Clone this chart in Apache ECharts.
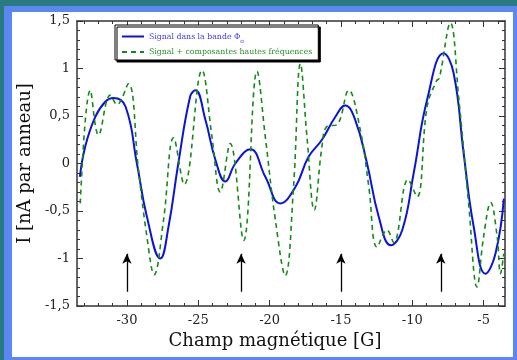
<!DOCTYPE html>
<html>
<head>
<meta charset="utf-8">
<script src="https://cdn.jsdelivr.net/npm/echarts@6/dist/echarts.min.js"></script>
<style>
  html, body { margin: 0; padding: 0; }
  body { width: 517px; height: 360px; background: #287b80; position: relative; overflow: hidden; }
  #blue { position: absolute; left: 4px; top: 6px; width: 513px; height: 354px; background: #5b87f5; }
  #white { position: absolute; left: 12px; top: 12px; width: 501px; height: 345px; background: #ffffff; }
  #chart { position: absolute; left: 0; top: 0; width: 517px; height: 360px; }
</style>
</head>
<body>
<div id="blue"></div>
<div id="white"></div>
<div id="chart"></div>
<script>
// ---- data ----
const blueName = 'Signal dans la bande Φ';
const greenName = 'Signal + composantes hautes fréquences';

const blueX = [-33.3, -32.92, -32.22, -31.52, -30.94, -30.1, -29.3, -28.6, -27.66, -27.08, -26.4, -25.56, -25.2, -24.5, -23.8, -23.1, -22.4, -21.35, -20.3, -19.25, -18.2, -17.27, -16.33, -15.4, -14.7, -14.0, -13.17, -12.35, -11.5, -10.7, -9.9, -8.96, -7.8, -7.1, -6.4, -5.7, -4.87, -4.17, -3.58];
const blueY = [-0.14, 0.18, 0.49, 0.65, 0.69, 0.60, 0.0, -0.56, -1.0, -0.66, 0.0, 0.71, 0.77, 0.46, 0.04, -0.19, 0.0, 0.15, -0.14, -0.42, -0.25, 0.07, 0.25, 0.49, 0.61, 0.46, 0.0, -0.56, -0.86, -0.70, -0.10, 0.67, 1.16, 0.95, 0.11, -0.66, -1.16, -0.95, -0.37];

const greenX = [-33.27, -32.57, -31.99, -31.17, -30.7, -29.9, -29.19, -28.6, -28.09, -27.43, -26.73, -25.98, -24.74, -24.04, -23.46, -22.76, -21.82, -20.88, -20.3, -19.6, -18.9, -18.32, -17.84, -17.38, -16.87, -16.33, -15.98, -15.27, -14.46, -13.64, -13.05, -12.47, -11.77, -11.3, -10.3, -9.66, -8.96, -8.3, -8.1, -7.33, -6.75, -6.05, -5.46, -5.0, -4.5, -4.05, -3.82, -3.59];
const greenY = [-0.42, 0.77, 0.30, 0.72, 0.62, 0.84, -0.07, -0.77, -1.17, -0.59, 0.27, -0.22, 0.98, 0.28, -0.30, 0.21, -0.81, 0.97, 0.28, -0.59, -1.18, -0.24, 1.05, 0.28, -0.49, 0.18, 0.39, 0.41, 0.77, 0.35, -0.24, -0.88, -0.70, -0.83, -0.17, -0.35, 0.60, 0.87, 0.90, 1.48, 0.70, -0.42, -1.30, -0.77, -0.41, -0.77, -1.16, -0.95];

const arrowX = [-30, -22, -15, -8];
const arrowFrom = -1.35;
const arrowTo = -0.95;

const xMajorTicks = [-30, -25, -20, -15, -10, -5];
const xMinorTicks = [-33, -32, -31, -30, -29, -28, -27, -26, -25, -24, -23, -22, -21, -20, -19, -18, -17, -16, -15, -14, -13, -12, -11, -10, -9, -8, -7, -6, -5, -4];
const xMin = -33.5, xMax = -3.5;
const yMin = -1.5, yMax = 1.5, yStep = 0.5;

const xTitle = 'Champ magnétique [G]';
const yTitle = 'I [nA par anneau]';

// ---- chart ----
const FONT = 'DejaVu Serif';
const axisColor = '#333';
const fmt = v => String(v).replace('.', ',');

function xAxisDef(pos, ticks, len, showLine, showLabel) {
  return {
    type: 'value', min: xMin, max: xMax, position: pos,
    axisLine: { show: showLine, onZero: false, lineStyle: { color: axisColor, width: 1.5 } },
    axisTick: { show: true, inside: true, length: len, customValues: ticks, lineStyle: { color: axisColor, width: 1 } },
    axisLabel: { show: showLabel, customValues: xMajorTicks, formatter: fmt, margin: 8, color: '#222', fontFamily: FONT, fontSize: 13 },
    splitLine: { show: false }
  };
}
function yAxisDef(pos, showLabel) {
  return {
    type: 'value', min: yMin, max: yMax, interval: yStep, position: pos,
    axisLine: { show: true, onZero: false, lineStyle: { color: axisColor, width: 1.5 } },
    axisTick: { show: true, inside: true, length: 6, lineStyle: { color: axisColor, width: 1 } },
    minorTick: { show: true, splitNumber: 5, length: 3, lineStyle: { color: axisColor, width: 1 } },
    axisLabel: { show: showLabel, formatter: fmt, margin: 7, color: '#222', fontFamily: FONT, fontSize: 13 },
    splitLine: { show: false }
  };
}

const xBottom = xAxisDef('bottom', xMajorTicks, 6, true, true);
xBottom.name = xTitle;
xBottom.nameLocation = 'middle';
xBottom.nameGap = 26;
xBottom.nameTextStyle = { fontFamily: FONT, fontSize: 18, color: '#111', padding: [0, 32, 0, 0] };

const yLeft = yAxisDef('left', true);
yLeft.name = yTitle;
yLeft.nameLocation = 'middle';
yLeft.nameGap = 38;
yLeft.nameTextStyle = { fontFamily: FONT, fontSize: 18, color: '#111' };

const chart = echarts.init(document.getElementById('chart'), null, { renderer: 'canvas' });
chart.setOption({
  animation: false,
  grid: { left: 77, right: 12, top: 21, bottom: 54, containLabel: false },
  legend: {
    orient: 'vertical', left: 115, top: 25,
    padding: [4, 6, 4, 6], itemGap: 4, itemWidth: 22, itemHeight: 10,
    backgroundColor: '#fff', borderColor: '#000', borderWidth: 1,
    shadowColor: '#000', shadowBlur: 0, shadowOffsetX: 2, shadowOffsetY: 2,
    itemStyle: { opacity: 0 },
    textStyle: { fontFamily: FONT, fontSize: 7.8,
      rich: { sub: { fontFamily: FONT, fontSize: 6, color: '#3a3ae8', padding: [9, 0, 0, 0], lineHeight: 10 } } },
    formatter: n => n === blueName ? n + '{sub|o}' : n,
    data: [
      { name: blueName, textStyle: { color: '#3a3ae8' } },
      { name: greenName, textStyle: { color: '#259025' } }
    ]
  },
  xAxis: [
    xBottom,
    xAxisDef('bottom', xMinorTicks, 3, false, false),
    xAxisDef('top', xMajorTicks, 6, true, false),
    xAxisDef('top', xMinorTicks, 3, false, false)
  ],
  yAxis: [yLeft, yAxisDef('right', false)],
  series: [
    {
      name: blueName, type: 'line', xAxisIndex: 0, yAxisIndex: 0,
      data: blueX.map((x, i) => [x, blueY[i]]),
      smooth: 0.45, symbol: 'none', showSymbol: false,
      lineStyle: { color: '#0a14d8', width: 2 }, itemStyle: { color: '#0a14d8' },
      z: 2,
      markLine: {
        silent: true, symbol: ['none', 'arrow'], symbolSize: [7, 10],
        lineStyle: { color: '#000', width: 1.3, type: 'solid' },
        label: { show: false },
        data: arrowX.map(x => [{ coord: [x, arrowFrom] }, { coord: [x, arrowTo] }])
      }
    },
    {
      name: greenName, type: 'line', xAxisIndex: 0, yAxisIndex: 0,
      data: greenX.map((x, i) => [x, greenY[i]]),
      smooth: 0.4, symbol: 'none', showSymbol: false,
      lineStyle: { color: '#168a16', width: 1.6, type: [5, 4] }, itemStyle: { color: '#168a16' },
      z: 3
    }
  ]
});
</script>
</body>
</html>
